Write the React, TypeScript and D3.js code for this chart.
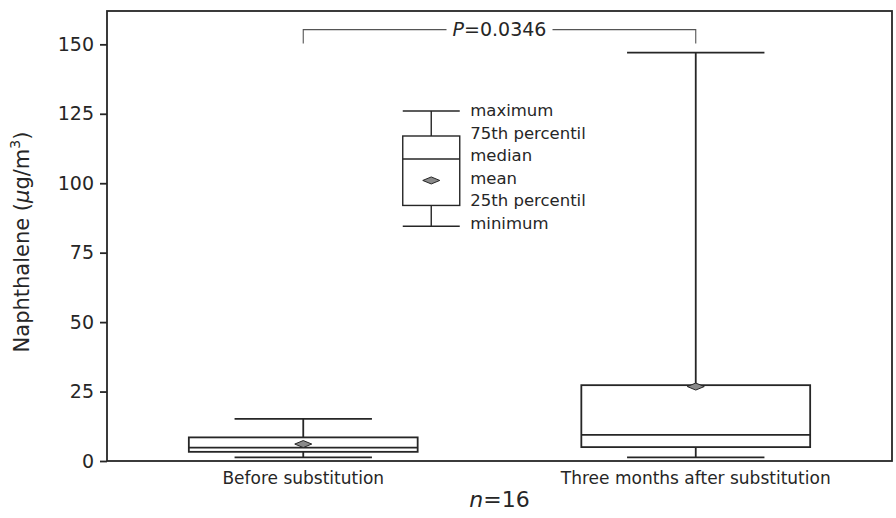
import React, { useEffect, useRef } from "react";
import { axisLeft, scaleBand, scaleLinear, select } from "d3";

// DATA
const categories = ["Before substitution", "Three months after substitution"];
const minimum = [1.3, 1.3];
const q1 = [3.3, 5.0];
const median = [4.8, 9.4];
const q3 = [8.5, 27.3];
const maximum = [15.2, 147];
const mean = [6.1, 26.8];
const yTicks = [0, 25, 50, 75, 100, 125, 150];

// legend key box, drawn in data units
const legendLabels = ["maximum", "75th percentil", "median", "mean", "25th percentil", "minimum"];
const legendValues = [126, 117, 108.7, 101, 92, 84.5];

const pValue = "0.0346";
const nCount = 16;

const FONT = "'DejaVu Sans', sans-serif";
const INK = "#262626";

const App = () => {
  const axisRef = useRef<SVGGElement>(null);

  const width = 896;
  const height = 518;
  const margin = { top: 11, right: 4, bottom: 57, left: 107 };
  const innerW = width - margin.left - margin.right;
  const innerH = height - margin.top - margin.bottom;

  // SCALES
  const x = scaleBand().domain(categories).range([0, innerW]).padding(0);
  const y = scaleLinear().domain([0, 162]).range([innerH, 0]);

  const boxW = x.bandwidth() * 0.583;
  const capW = x.bandwidth() * 0.35;
  const cx = (c: string) => (x(c) ?? 0) + x.bandwidth() / 2;

  useEffect(() => {
    document.body.style.margin = "0";
    const g = select(axisRef.current);
    g.call(axisLeft(y).tickValues(yTicks).tickSize(7).tickPadding(6).tickSizeOuter(0));
    g.select(".domain").remove();
    g.selectAll(".tick line").attr("stroke", INK).attr("stroke-width", 1.8);
    g.selectAll(".tick text")
      .attr("fill", INK)
      .style("font-family", FONT)
      .style("font-size", "19px");
  }, []);

  const diamond = (px: number, py: number) =>
    `M${px - 8.5},${py} L${px},${py - 3.5} L${px + 8.5},${py} L${px},${py + 3.5} Z`;

  // legend geometry
  const legCx = cx(categories[0]) + 128;
  const legW = 57;
  const rowH = 22.6;
  const legTextX = legCx + 39;
  const legTextY0 = y(legendValues[0]) + 5;

  // bracket
  const bracketTop = y(155.3);
  const bracketDrop = y(150.3);
  const leftX = cx(categories[0]);
  const rightX = cx(categories[1]);
  const midX = innerW / 2;
  const gap = 53;

  return (
    <svg width={width} height={height} style={{ display: "block" }}>
      <g transform={`translate(${margin.left},${margin.top})`}>
        {/* frame */}
        <rect x={0} y={0} width={innerW} height={innerH} fill="none" stroke={INK} strokeWidth={1.8} />
        <g ref={axisRef} />

        {/* boxes */}
        {categories.map((c, i) => {
          const m = cx(c);
          return (
            <g key={c} stroke={INK} strokeWidth={1.8} fill="none">
              <line x1={m} x2={m} y1={y(maximum[i])} y2={y(q3[i])} />
              <line x1={m} x2={m} y1={y(q1[i])} y2={y(minimum[i])} />
              <line x1={m - capW / 2} x2={m + capW / 2} y1={y(maximum[i])} y2={y(maximum[i])} />
              <line x1={m - capW / 2} x2={m + capW / 2} y1={y(minimum[i])} y2={y(minimum[i])} />
              <rect x={m - boxW / 2} y={y(q3[i])} width={boxW} height={y(q1[i]) - y(q3[i])} fill="white" />
              <line x1={m - boxW / 2} x2={m + boxW / 2} y1={y(median[i])} y2={y(median[i])} />
              <path d={diamond(m, y(mean[i]))} fill="#8a8a8a" strokeWidth={1} />
            </g>
          );
        })}

        {/* category labels */}
        {categories.map(c => (
          <text key={c} x={cx(c)} y={innerH + 23} textAnchor="middle" fontFamily={FONT} fontSize={17} fill={INK}>
            {c}
          </text>
        ))}

        {/* significance bracket */}
        <g stroke="#555" strokeWidth={1.1} fill="none">
          <path d={`M${leftX},${bracketDrop} V${bracketTop} H${midX - gap}`} />
          <path d={`M${midX + gap},${bracketTop} H${rightX} V${bracketDrop}`} />
        </g>
        <text x={midX} y={bracketTop + 6.5} textAnchor="middle" fontFamily={FONT} fontSize={19} fill={INK}>
          <tspan fontStyle="italic">P</tspan>={pValue}
        </text>

        {/* legend key */}
        <g stroke={INK} strokeWidth={1.4} fill="none">
          <line x1={legCx - legW / 2} x2={legCx + legW / 2} y1={y(legendValues[0])} y2={y(legendValues[0])} />
          <line x1={legCx} x2={legCx} y1={y(legendValues[0])} y2={y(legendValues[1])} />
          <rect x={legCx - legW / 2} y={y(legendValues[1])} width={legW} height={y(legendValues[4]) - y(legendValues[1])} />
          <line x1={legCx - legW / 2} x2={legCx + legW / 2} y1={y(legendValues[2])} y2={y(legendValues[2])} />
          <line x1={legCx} x2={legCx} y1={y(legendValues[4])} y2={y(legendValues[5])} />
          <line x1={legCx - legW / 2} x2={legCx + legW / 2} y1={y(legendValues[5])} y2={y(legendValues[5])} />
          <path d={diamond(legCx, y(legendValues[3]))} fill="#8a8a8a" strokeWidth={1} />
        </g>
        {legendLabels.map((l, i) => (
          <text key={l} x={legTextX} y={legTextY0 + i * rowH} fontFamily={FONT} fontSize={16.5} fill={INK}>
            {l}
          </text>
        ))}

        {/* y axis title */}
        <text
          transform={`translate(${-78},${innerH / 2 + 6}) rotate(-90)`}
          textAnchor="middle"
          fontFamily={FONT}
          fontSize={21}
          fill={INK}
        >
          Naphthalene (<tspan fontStyle="italic">μ</tspan>g/m<tspan dy={-9} fontSize={14}>3</tspan>
          <tspan dy={9}>)</tspan>
        </text>

        {/* n */}
        <text x={innerW / 2} y={innerH + 46} textAnchor="middle" fontFamily={FONT} fontSize={22} fill={INK}>
          <tspan fontStyle="italic">n</tspan>={nCount}
        </text>
      </g>
    </svg>
  );
};

export default App;
